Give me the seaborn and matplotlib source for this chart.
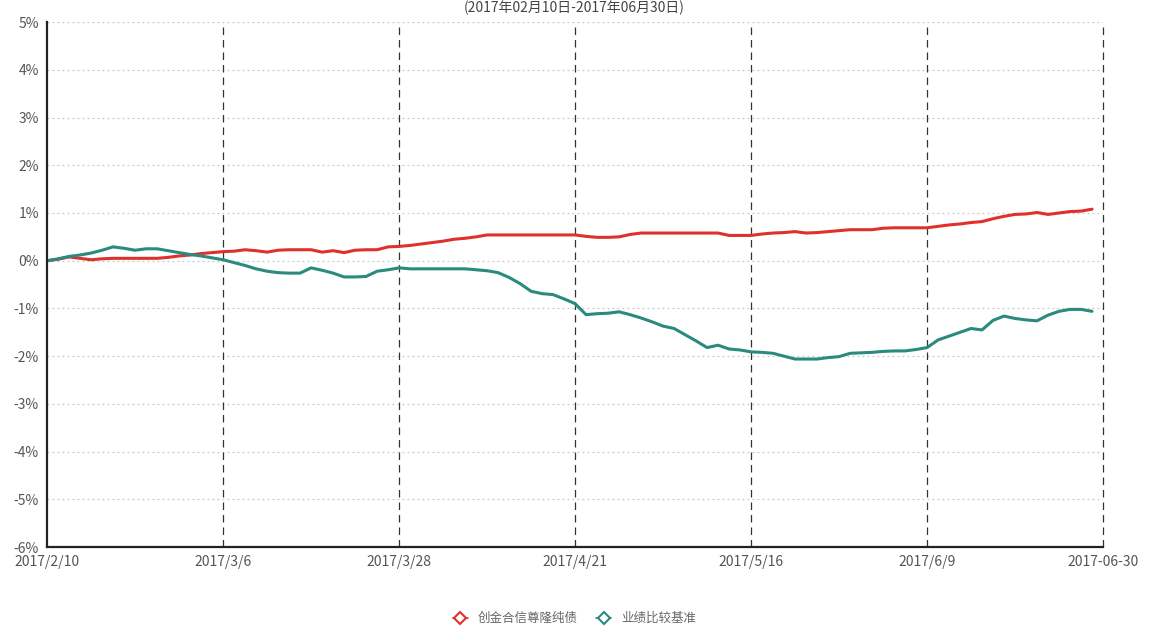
import numpy as np
import pandas as pd
import matplotlib
matplotlib.use("Agg")
import matplotlib.pyplot as plt
from matplotlib.lines import Line2D
import seaborn as sns

# data (cumulative return, %), one point per trading day
fund = [0.00, 0.03, 0.08, 0.05, 0.02, 0.04, 0.05, 0.05, 0.05, 0.05,
        0.05, 0.07, 0.10, 0.12, 0.15, 0.17, 0.19, 0.20, 0.23, 0.21,
        0.18, 0.22, 0.23, 0.23, 0.23, 0.18, 0.21, 0.17, 0.22, 0.23,
        0.23, 0.29, 0.30, 0.32, 0.35, 0.38, 0.41, 0.45, 0.47, 0.50,
        0.54, 0.54, 0.54, 0.54, 0.54, 0.54, 0.54, 0.54, 0.54, 0.51,
        0.49, 0.49, 0.50, 0.55, 0.58, 0.58, 0.58, 0.58, 0.58, 0.58,
        0.58, 0.58, 0.53, 0.53, 0.53, 0.56, 0.58, 0.59, 0.61, 0.58,
        0.59, 0.61, 0.63, 0.65, 0.65, 0.65, 0.68, 0.69, 0.69, 0.69,
        0.69, 0.72, 0.75, 0.77, 0.80, 0.82, 0.88, 0.93, 0.97, 0.98,
        1.01, 0.97, 1.00, 1.03, 1.04, 1.08]
bench = [0.00, 0.04, 0.09, 0.12, 0.16, 0.22, 0.29, 0.26, 0.22, 0.25,
         0.25, 0.21, 0.17, 0.13, 0.10, 0.06, 0.02, -0.04, -0.10, -0.17,
         -0.22, -0.25, -0.26, -0.26, -0.15, -0.20, -0.26, -0.34, -0.34, -0.33,
         -0.22, -0.19, -0.15, -0.17, -0.17, -0.17, -0.17, -0.17, -0.17, -0.19,
         -0.21, -0.25, -0.35, -0.48, -0.64, -0.69, -0.71, -0.80, -0.90, -1.13,
         -1.11, -1.10, -1.07, -1.13, -1.20, -1.28, -1.37, -1.42, -1.55, -1.68,
         -1.82, -1.77, -1.85, -1.87, -1.91, -1.92, -1.94, -2.00, -2.06, -2.06,
         -2.06, -2.03, -2.01, -1.94, -1.93, -1.92, -1.90, -1.89, -1.89, -1.86,
         -1.82, -1.66, -1.58, -1.50, -1.42, -1.45, -1.25, -1.16, -1.21, -1.24,
         -1.26, -1.14, -1.06, -1.02, -1.02, -1.06]
names = ["创金合信尊隆纯债", "业绩比较基准"]
tick_pos = [0, 16, 32, 48, 64, 80, 96]
tick_labels = ["2017/2/10", "2017/3/6", "2017/3/28", "2017/4/21",
               "2017/5/16", "2017/6/9", "2017-06-30"]
colors = ["#e0302c", "#2b8a7e"]

df = pd.DataFrame({
    "day": list(range(len(fund))) * 2,
    "value": fund + bench,
    "series": [names[0]] * len(fund) + [names[1]] * len(bench),
})

sns.set_style("white")
plt.rcParams["font.family"] = ["Noto Sans CJK SC", "DejaVu Sans"]

fig = plt.figure(figsize=(11.49, 6.31), dpi=100)
ax = fig.add_axes([0.041, 0.133, 0.919, 0.832])

sns.lineplot(data=df, x="day", y="value", hue="series", palette=colors,
             linewidth=2.2, ax=ax, legend=False)

ax.set_xlim(0, 96)
ax.set_ylim(-6, 5)
ax.set_yticks(range(-6, 6))
ax.set_yticklabels([f"{v}%" for v in range(-6, 6)], fontsize=10, color="#555555")
ax.set_xticks(tick_pos)
ax.set_xticklabels(tick_labels, fontsize=10, color="#555555")
ax.tick_params(length=0, pad=6)
ax.set_xlabel("")
ax.set_ylabel("")

# grid: dotted horizontals, dashed verticals
for v in range(-5, 6):
    ax.axhline(v, color="#c8c8c8", linestyle=(0, (1.5, 2.5)), linewidth=0.9, zorder=0)
for p in tick_pos[1:]:
    ax.axvline(p, color="#333333", linestyle=(0, (6, 4)), linewidth=0.9,
               zorder=0, clip_on=False)

for s in ["top", "right"]:
    ax.spines[s].set_visible(False)
ax.spines["left"].set_color("#222222")
ax.spines["left"].set_linewidth(1.6)
ax.spines["bottom"].set_color("#222222")
ax.spines["bottom"].set_linewidth(1.6)

handles = [Line2D([0], [0], color=c, marker="D", markersize=6,
                  markerfacecolor="white", markeredgecolor=c, markeredgewidth=1.5,
                  linewidth=1.2) for c in colors]
fig.legend(handles, names, loc="center", bbox_to_anchor=(0.5, 0.02), ncol=2,
           frameon=False, fontsize=9, handlelength=1.2, columnspacing=1.5,
           labelcolor="#666666")

fig.text(0.5, 0.999, "(2017年02月10日-2017年06月30日)", ha="center", va="top",
         fontsize=10, color="#444444")

fig.savefig("out.png", dpi=100)
